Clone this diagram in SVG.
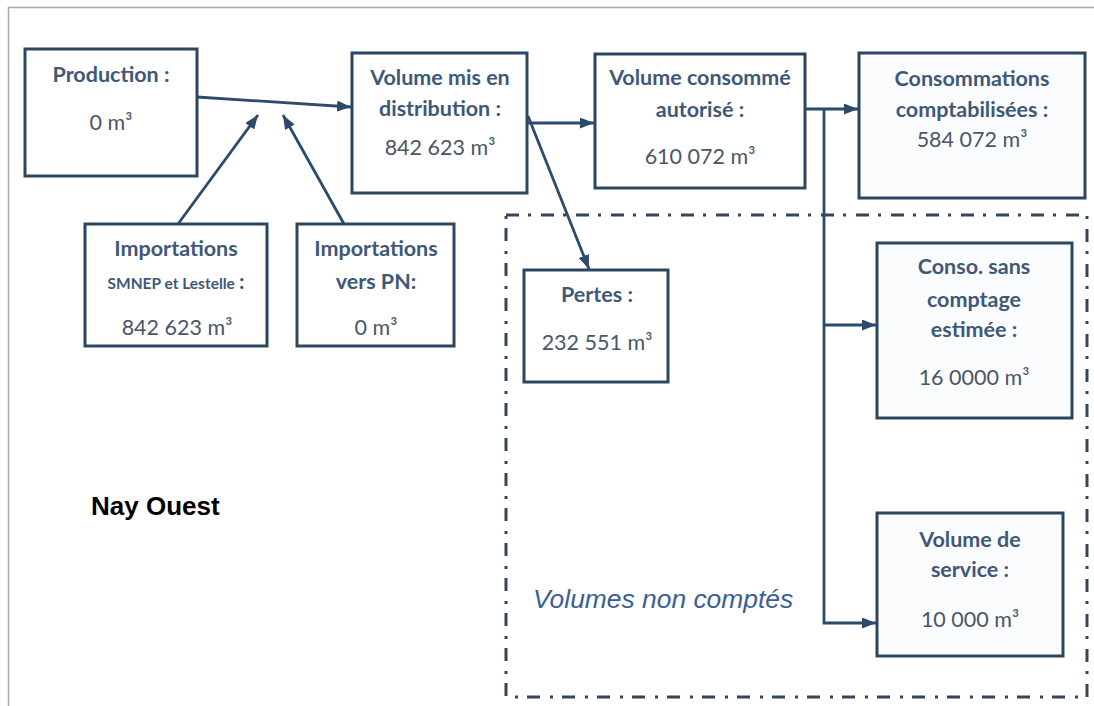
<svg xmlns="http://www.w3.org/2000/svg" width="1094" height="706" viewBox="0 0 1094 706">
  <defs>
    <marker id="arrow" viewBox="0 0 14 11" refX="14" refY="5.5" markerWidth="14" markerHeight="11" markerUnits="userSpaceOnUse" orient="auto">
      <path d="M0,0 L14,5.5 L0,11 z" fill="#2c4a6a"/>
    </marker>
    <style>
      .box { fill: #ffffff; stroke: #2d4660; stroke-width: 3; }
      .box-soft { fill: #fbfcfe; stroke: #2d4660; stroke-width: 3; }
      .title { font-family: Lato, "Open Sans", sans-serif; font-weight: bold; font-size: 21.5px; fill: #3e5878; text-anchor: middle; }
      .small { font-family: Lato, "Open Sans", sans-serif; font-weight: bold; font-size: 15.5px; fill: #3e5878; }
      .value { font-family: Lato, "Open Sans", sans-serif; font-size: 21.5px; fill: #4a5668; text-anchor: middle; }
      .link { fill: none; stroke: #2c4a6a; stroke-width: 2.8; }
    </style>
  </defs>

  <rect width="1094" height="706" fill="#ffffff"/>

  <!-- page frame -->
  <path d="M8.5,706 V7.5 H1094" fill="none" stroke="#a3a9b8" stroke-width="1.5"/>

  <!-- unmetered volumes zone -->
  <g id="zone-non-comptes">
    <rect x="506" y="215" width="581" height="482" fill="none" stroke="#35465c" stroke-width="3" stroke-dasharray="13 9 3 10"/>
    <text x="533" y="608" font-family="'Liberation Sans', Arial, sans-serif" font-style="italic" font-size="26.4" fill="#3a5f95">Volumes non comptés</text>
  </g>

  <text id="label-secteur" x="91" y="515" font-family="'Liberation Sans', Arial, sans-serif" font-weight="bold" font-size="26" fill="#000000">Nay Ouest</text>

  <!-- connectors -->
  <g id="connectors">
    <line class="link" x1="197" y1="97" x2="351" y2="107" marker-end="url(#arrow)"/>
    <line class="link" x1="178" y1="224" x2="258" y2="115" marker-end="url(#arrow)"/>
    <line class="link" x1="344" y1="224" x2="283" y2="115" marker-end="url(#arrow)"/>
    <line class="link" x1="528" y1="123" x2="594" y2="123" marker-end="url(#arrow)"/>
    <line class="link" x1="528" y1="116" x2="589" y2="269" marker-end="url(#arrow)"/>
    <line class="link" x1="805" y1="109" x2="858" y2="109" marker-end="url(#arrow)"/>
    <path class="link" d="M824,109 V623 H876" marker-end="url(#arrow)"/>
    <path class="link" d="M824,325 H876" marker-end="url(#arrow)"/>
  </g>

  <g id="production">
    <rect class="box" x="25" y="49" width="172" height="127"/>
    <text class="title" x="111" y="82">Production :</text>
    <text class="value" x="111" y="130">0 m³</text>
  </g>

  <g id="volume-distribution">
    <rect class="box" x="352" y="53" width="175" height="140"/>
    <text class="title" x="440" y="85">Volume mis en</text>
    <text class="title" x="440" y="116">distribution :</text>
    <text class="value" x="440" y="155">842 623 m³</text>
  </g>

  <g id="volume-consomme">
    <rect class="box" x="595" y="54" width="210" height="134"/>
    <text class="title" x="700" y="85">Volume consommé</text>
    <text class="title" x="700" y="117">autorisé :</text>
    <text class="value" x="700" y="164">610 072 m³</text>
  </g>

  <g id="consommations-comptabilisees">
    <rect class="box-soft" x="859" y="53" width="226" height="145"/>
    <text class="title" x="972" y="86">Consommations</text>
    <text class="title" x="972" y="117">comptabilisées :</text>
    <text class="value" x="972" y="147">584 072 m³</text>
  </g>

  <g id="importations-smnep">
    <rect class="box" x="85" y="224" width="182" height="122"/>
    <text class="title" x="176" y="256">Importations</text>
    <text x="176" y="289" text-anchor="middle"><tspan class="small">SMNEP et Lestelle</tspan><tspan class="title" dx="4">:</tspan></text>
    <text class="value" x="177" y="335">842 623 m³</text>
  </g>

  <g id="importations-pn">
    <rect class="box" x="297" y="224" width="157" height="122"/>
    <text class="title" x="376" y="256">Importations</text>
    <text class="title" x="376" y="289">vers PN:</text>
    <text class="value" x="376" y="335">0 m³</text>
  </g>

  <g id="pertes">
    <rect class="box" x="524" y="270" width="144" height="112"/>
    <text class="title" x="597" y="302">Pertes :</text>
    <text class="value" x="597" y="350">232 551 m³</text>
  </g>

  <g id="conso-sans-comptage">
    <rect class="box-soft" x="877" y="243" width="195" height="175"/>
    <text class="title" x="974" y="274">Conso. sans</text>
    <text class="title" x="974" y="307">comptage</text>
    <text class="title" x="974" y="337">estimée :</text>
    <text class="value" x="974" y="385">16 0000 m³</text>
  </g>

  <g id="volume-service">
    <rect class="box-soft" x="877" y="513" width="186" height="143"/>
    <text class="title" x="970" y="547">Volume de</text>
    <text class="title" x="970" y="577">service :</text>
    <text class="value" x="970" y="627">10 000 m³</text>
  </g>
</svg>
